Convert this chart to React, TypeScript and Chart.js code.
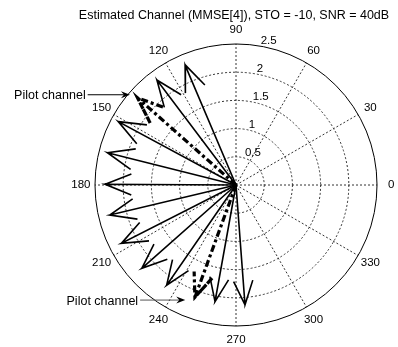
import React, { useEffect, useRef } from "react";
import { Chart, registerables } from "chart.js";

Chart.register(...registerables);

// ---- data ----
const TITLE = "Estimated Channel (MMSE[4]), STO = -10, SNR = 40dB";
const solidAngles = [113, 127, 151.7, 165.9, 179.7, 193.4, 207, 221.5, 235.3, 259.8, 274.3];
const solidMags = [2.31, 2.33, 2.37, 2.35, 2.32, 2.3, 2.28, 2.23, 2.16, 2.1, 2.13];
const pilotAngles = [138.5, 249.9];
const pilotMags = [2.33, 2.12];
const ringValues = [0.5, 1, 1.5, 2, 2.5];
const ringLabels = ["0.5", "1", "1.5", "2", "2.5"];
const angleTicks = [0, 30, 60, 90, 120, 150, 180, 210, 240, 270, 300, 330];
const angleLabels = ["0", "30", "60", "90", "120", "150", "180", "210", "240", "270", "300", "330"];
const annotationText = ["Pilot channel", "Pilot channel"];
// annotation arrow tips / tails in data coordinates
const annotationTip = [
  [-1.88, 1.6],
  [-0.9, -2.04],
];
const annotationTail = [
  [-2.63, 1.6],
  [-1.7, -2.04],
];

// view bounds (data units)
const X_MIN = -4.184;
const X_MAX = 2.872;
const Y_MIN = -2.872;
const Y_MAX = 3.28;

const FONT = "'Liberation Sans', Arial, sans-serif";

function arrowPoints(angleDeg: number, mag: number) {
  const a = (angleDeg * Math.PI) / 180;
  const zr = mag * Math.cos(a);
  const zi = mag * Math.sin(a);
  // MATLAB compass arrow shape: 0 -> 1 -> .8+.08i -> 1 -> .8-.08i
  const shape: [number, number][] = [
    [0, 0],
    [1, 0],
    [0.8, 0.08],
    [1, 0],
    [0.8, -0.08],
  ];
  return shape.map(([ar, ai]) => ({ x: zr * ar - zi * ai, y: zr * ai + zi * ar }));
}

const polarGrid = {
  id: "polarGrid",
  beforeDatasetsDraw(chart: any) {
    const { ctx, scales } = chart;
    const x = scales.x;
    const y = scales.y;
    const cx = x.getPixelForValue(0);
    const cy = y.getPixelForValue(0);
    const R = ringValues[ringValues.length - 1];
    const rpx = (v: number) => x.getPixelForValue(v) - cx;
    ctx.save();
    // dashed rings
    ctx.strokeStyle = "#333";
    ctx.lineWidth = 1;
    ctx.setLineDash([2, 2]);
    ringValues.slice(0, -1).forEach((r) => {
      ctx.beginPath();
      ctx.arc(cx, cy, rpx(r), 0, Math.PI * 2);
      ctx.stroke();
    });
    // spokes
    angleTicks.forEach((deg) => {
      const a = (deg * Math.PI) / 180;
      ctx.beginPath();
      ctx.moveTo(cx, cy);
      ctx.lineTo(x.getPixelForValue(R * Math.cos(a)), y.getPixelForValue(R * Math.sin(a)));
      ctx.stroke();
    });
    ctx.setLineDash([]);
    // outer circle
    ctx.strokeStyle = "#000";
    ctx.beginPath();
    ctx.arc(cx, cy, rpx(R), 0, Math.PI * 2);
    ctx.stroke();

    ctx.fillStyle = "#000";
    // radial labels at 82 deg
    ctx.font = `11.5px ${FONT}`;
    ctx.textAlign = "left";
    ctx.textBaseline = "bottom";
    const c82 = (82 * Math.PI) / 180;
    ringValues.forEach((r, i) => {
      ctx.fillText(
        ringLabels[i],
        x.getPixelForValue(r * Math.cos(c82)) + 5,
        y.getPixelForValue(r * Math.sin(c82)) + 1
      );
    });
    // angle labels
    ctx.textAlign = "center";
    ctx.textBaseline = "middle";
    angleTicks.forEach((deg, i) => {
      const a = (deg * Math.PI) / 180;
      ctx.fillText(
        angleLabels[i],
        x.getPixelForValue(1.1 * R * Math.cos(a)),
        y.getPixelForValue(1.1 * R * Math.sin(a))
      );
    });
    // title
    ctx.font = `12.5px ${FONT}`;
    ctx.fillText(TITLE, cx - 2, 16);
    ctx.restore();
  },
  afterDatasetsDraw(chart: any) {
    const { ctx, scales } = chart;
    const x = scales.x;
    const y = scales.y;
    ctx.save();
    ctx.font = `12.5px ${FONT}`;
    ctx.textAlign = "right";
    ctx.textBaseline = "middle";
    annotationText.forEach((t, i) => {
      const tx = x.getPixelForValue(annotationTail[i][0]);
      const ty = y.getPixelForValue(annotationTail[i][1]);
      const hx = x.getPixelForValue(annotationTip[i][0]);
      const hy = y.getPixelForValue(annotationTip[i][1]);
      const col = i === 0 ? "#000" : "#555";
      ctx.fillStyle = "#000";
      ctx.fillText(t, tx - 2, ty + 1);
      ctx.strokeStyle = col;
      ctx.lineWidth = 1;
      ctx.beginPath();
      ctx.moveTo(tx, ty);
      ctx.lineTo(hx - 6, hy);
      ctx.stroke();
      ctx.fillStyle = "#000";
      ctx.beginPath();
      ctx.moveTo(hx, hy);
      ctx.lineTo(hx - 9, hy - 3.5);
      ctx.lineTo(hx - 6, hy);
      ctx.lineTo(hx - 9, hy + 3.5);
      ctx.closePath();
      ctx.fill();
    });
    ctx.restore();
  },
};

export default function App() {
  const ref = useRef<HTMLCanvasElement | null>(null);
  useEffect(() => {
    if (!ref.current) return;
    const datasets: any[] = [];
    solidAngles.forEach((a, i) => {
      datasets.push({
        data: arrowPoints(a, solidMags[i]),
        showLine: true,
        borderColor: "#000",
        borderWidth: 1.6,
        pointRadius: 0,
        fill: false,
      });
    });
    pilotAngles.forEach((a, i) => {
      datasets.push({
        data: arrowPoints(a, pilotMags[i]),
        showLine: true,
        borderColor: "#000",
        borderWidth: 3.2,
        borderDash: [7, 3, 3, 3],
        pointRadius: 0,
        fill: false,
      });
    });
    const chart = new Chart(ref.current, {
      type: "scatter",
      data: { datasets },
      options: {
        animation: false,
        responsive: true,
        maintainAspectRatio: false,
        devicePixelRatio: 1,
        layout: { padding: 0 },
        plugins: { legend: { display: false }, tooltip: { enabled: false }, title: { display: false } },
        scales: {
          x: { type: "linear", min: X_MIN, max: X_MAX, display: false },
          y: { type: "linear", min: Y_MIN, max: Y_MAX, display: false },
        },
        events: [],
      },
      plugins: [polarGrid],
    });
    return () => chart.destroy();
  }, []);
  return (
    <div style={{ position: "fixed", left: 0, top: 0, width: 398, height: 347, background: "#fff" }}>
      <canvas ref={ref} />
    </div>
  );
}
